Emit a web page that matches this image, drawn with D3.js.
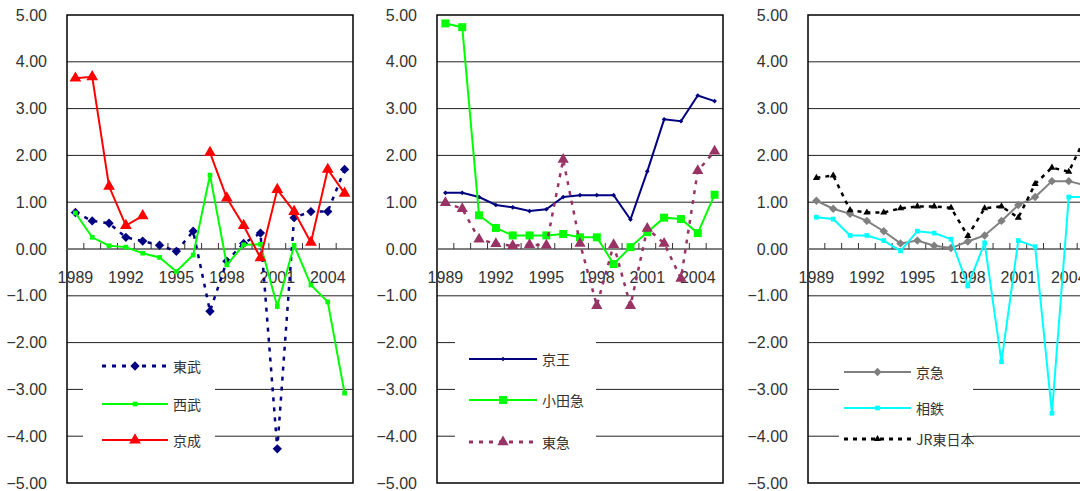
<!DOCTYPE html>
<html>
<head>
<meta charset="utf-8">
<script src="https://cdn.jsdelivr.net/npm/d3@7"></script>
<style>
  body { margin: 0; background: #fff; }
  svg { display: block; }
  .tick-label { font-family: "Liberation Sans", Arial, sans-serif; font-size: 16px; fill: #333; }
  .legend-label { font-family: "Noto Sans CJK JP", sans-serif; font-size: 14px; fill: #333; }
</style>
</head>
<body>
<svg id="chart" width="1080" height="491"></svg>
<script>
// カテゴリ（年）
var years = [1989, 1990, 1991, 1992, 1993, 1994, 1995, 1996, 1997,
             1998, 1999, 2000, 2001, 2002, 2003, 2004, 2005];
var yearLabels = [1989, 1992, 1995, 1998, 2001, 2004];
var yTicks = [-5, -4, -3, -2, -1, 0, 1, 2, 3, 4, 5];

// 系列データ（左）
var tobu   = [0.78, 0.60, 0.55, 0.25, 0.17, 0.08, -0.05, 0.38, -1.33, -0.26, 0.12, 0.34, -4.27, 0.67, 0.80, 0.80, 1.70];
var seibu  = [0.77, 0.25, 0.07, 0.04, -0.09, -0.18, -0.48, -0.13, 1.58, -0.34, 0.09, 0.10, -1.23, 0.08, -0.77, -1.13, -3.08];
var keisei = [3.65, 3.68, 1.34, 0.50, 0.71, null, null, null, 2.06, 1.09, 0.50, -0.19, 1.27, 0.80, 0.14, 1.70, 1.19];

// 系列データ（中）
var keio   = [1.20, 1.20, 1.11, 0.94, 0.89, 0.81, 0.85, 1.11, 1.15, 1.15, 1.15, 0.63, 1.66, 2.77, 2.73, 3.28, 3.16];
var odakyu = [4.82, 4.74, 0.72, 0.45, 0.29, 0.29, 0.29, 0.32, 0.25, 0.25, -0.32, 0.04, 0.36, 0.67, 0.64, 0.34, 1.16];
var tokyu  = [0.99, 0.86, 0.21, 0.11, 0.07, 0.09, 0.08, 1.91, 0.12, -1.21, 0.09, -1.21, 0.44, 0.12, -0.63, 1.67, 2.09];

// 系列データ（右）
var keikyu  = [1.03, 0.86, 0.75, 0.60, 0.38, 0.12, 0.18, 0.07, 0.02, 0.16, 0.29, 0.60, 0.94, 1.11, 1.45, 1.45, 1.36];
var sotetsu = [0.68, 0.64, 0.29, 0.29, 0.18, -0.04, 0.38, 0.34, 0.21, -0.79, 0.13, -2.41, 0.18, 0.05, -3.51, 1.11, 1.11];
var jrEast  = [1.52, 1.57, 0.83, 0.78, 0.78, 0.87, 0.91, 0.91, 0.88, 0.28, 0.87, 0.91, 0.67, 1.39, 1.74, 1.65, 2.40];

// パネル定義
var panels = [
  { left: 67, legend: { x0: 83, x1: 215, y0: 350, y1: 458, line0: 102, line1: 168 },
    series: [
      { name: '東武', values: tobu, color: '#000080', width: 3, dash: '4,6', symbol: d3.symbolDiamond2, size: 55, legendY: 366 },
      { name: '西武', values: seibu, color: '#00ff00', width: 2, dash: null, symbol: d3.symbolSquare, size: 22, legendY: 404 },
      { name: '京成', values: keisei, color: '#ff0000', width: 2, dash: null, symbol: d3.symbolTriangle, size: 60, legendY: 440 }
    ] },
  { left: 437, legend: { x0: 455, x1: 596, y0: 333, y1: 462, line0: 469, line1: 537 },
    series: [
      { name: '京王', values: keio, color: '#000080', width: 2, dash: null, symbol: d3.symbolDiamond2, size: 14, legendY: 359 },
      { name: '小田急', values: odakyu, color: '#00ff00', width: 2, dash: null, symbol: d3.symbolSquare, size: 64, legendY: 400 },
      { name: '東急', values: tokyu, color: '#993366', width: 3, dash: '4,6', symbol: d3.symbolTriangle, size: 55, legendY: 442 }
    ] },
  { left: 808, legend: { x0: 839, x1: 973, y0: 352, y1: 448, line0: 844, line1: 911 },
    series: [
      { name: '京急', values: keikyu, color: '#808080', width: 2, dash: null, symbol: d3.symbolDiamond2, size: 45, legendY: 372 },
      { name: '相鉄', values: sotetsu, color: '#00ffff', width: 2, dash: null, symbol: d3.symbolSquare, size: 22, legendY: 408 },
      { name: 'JR東日本', values: jrEast, color: '#000000', width: 3, dash: '4,5', symbol: d3.symbolTriangle, size: 22, legendY: 439 }
    ] }
];

var svg = d3.select('#chart');
var plotW = 286, plotTop = 15, plotBottom = 483;

var y = d3.scaleLinear().domain([-5, 5]).range([plotBottom, plotTop]);

panels.forEach(function(p) {
  var g = svg.append('g');
  var x = d3.scaleBand().domain(years).range([p.left, p.left + plotW]).padding(0);
  var cx = function(i) { return x(years[i]) + x.bandwidth() / 2; };

  // 目盛線
  g.selectAll('.grid').data(yTicks.filter(function(t) { return t !== 0 && t !== 5 && t !== -5; }))
    .enter().append('line')
    .attr('x1', p.left).attr('x2', p.left + plotW)
    .attr('y1', function(d) { return y(d); }).attr('y2', function(d) { return y(d); })
    .attr('stroke', '#222').attr('stroke-width', 1);

  // 枠
  g.append('rect')
    .attr('x', p.left).attr('y', plotTop)
    .attr('width', plotW).attr('height', plotBottom - plotTop)
    .attr('fill', 'none').attr('stroke', '#000').attr('stroke-width', 1.5);

  // Y軸ラベル
  var yAxis = d3.axisLeft(y).tickValues(yTicks).tickFormat(d3.format('.2f')).tickSize(0).tickPadding(20);
  var ya = g.append('g').attr('transform', 'translate(' + p.left + ',0)').call(yAxis);
  ya.select('.domain').remove();
  ya.attr('font-family', null).attr('font-size', null);
  ya.selectAll('text').attr('class', 'tick-label').attr('fill', null);

  // X軸（0の線）
  g.append('line')
    .attr('x1', p.left).attr('x2', p.left + plotW)
    .attr('y1', y(0)).attr('y2', y(0))
    .attr('stroke', '#555').attr('stroke-width', 1.5);
  g.selectAll('.xtick').data(years.slice(1)).enter().append('line')
    .attr('x1', function(d) { return x(d); }).attr('x2', function(d) { return x(d); })
    .attr('y1', y(0) - 6).attr('y2', y(0))
    .attr('stroke', '#333').attr('stroke-width', 1);
  g.selectAll('.xlabel').data(yearLabels).enter().append('text')
    .attr('class', 'tick-label')
    .attr('x', function(d) { return x(d) + x.bandwidth() / 2; })
    .attr('y', y(0) + 34)
    .attr('text-anchor', 'middle')
    .text(function(d) { return d; });

  // 系列
  p.series.forEach(function(s) {
    var line = d3.line()
      .defined(function(d) { return d !== null; })
      .x(function(d, i) { return cx(i); })
      .y(function(d) { return y(d); });
    g.append('path')
      .datum(s.values)
      .attr('d', line)
      .attr('fill', 'none')
      .attr('stroke', s.color)
      .attr('stroke-width', s.dash ? s.width - 0.5 : s.width)
      .attr('stroke-dasharray', s.dash);
    var sym = d3.symbol().type(s.symbol).size(s.size);
    g.selectAll(null).data(s.values.map(function(v, i) { return { v: v, i: i }; }).filter(function(d) { return d.v !== null; }))
      .enter().append('path')
      .attr('d', sym)
      .attr('transform', function(d) { return 'translate(' + cx(d.i) + ',' + y(d.v) + ')'; })
      .attr('fill', s.color);
  });

  // 凡例
  var L = p.legend;
  g.append('rect')
    .attr('x', L.x0).attr('y', L.y0)
    .attr('width', L.x1 - L.x0).attr('height', L.y1 - L.y0)
    .attr('fill', '#fff');
  p.series.forEach(function(s) {
    g.append('line')
      .attr('x1', L.line0).attr('x2', L.line1)
      .attr('y1', s.legendY).attr('y2', s.legendY)
      .attr('stroke', s.color).attr('stroke-width', s.width)
      .attr('stroke-dasharray', s.dash);
    g.append('path')
      .attr('d', d3.symbol().type(s.symbol).size(s.size))
      .attr('transform', 'translate(' + ((L.line0 + L.line1) / 2) + ',' + s.legendY + ')')
      .attr('fill', s.color);
    g.append('text')
      .attr('class', 'legend-label')
      .attr('x', L.line1 + 5)
      .attr('y', s.legendY)
      .attr('dominant-baseline', 'central')
      .text(s.name);
  });
});
</script>
</body>
</html>
